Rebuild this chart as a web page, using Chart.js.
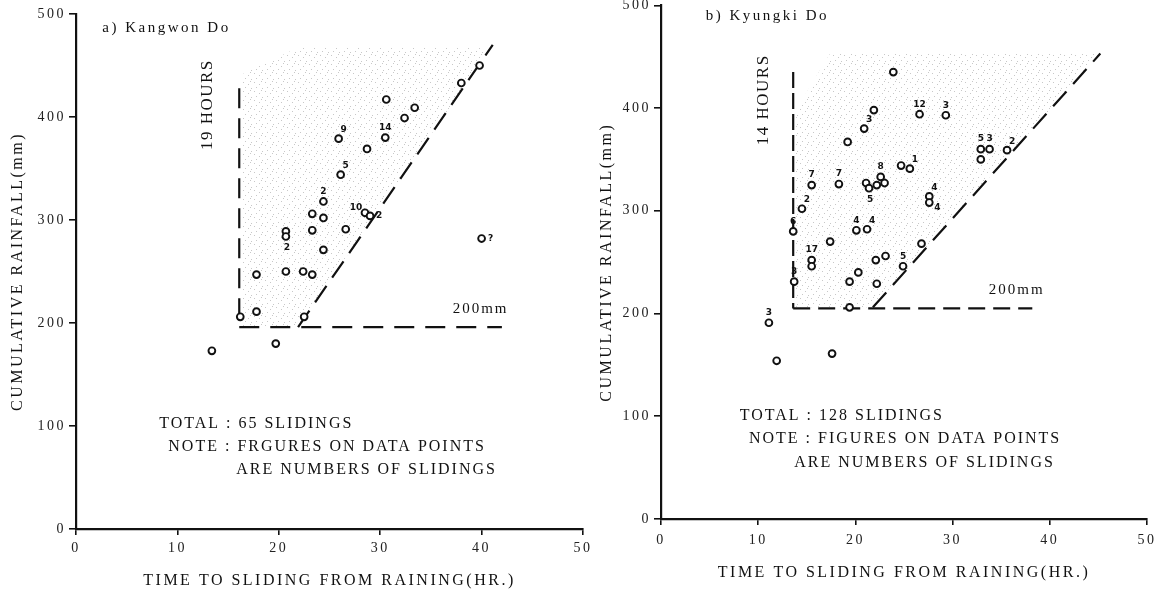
<!DOCTYPE html>
<html>
<head>
<meta charset="utf-8">
<title>Cumulative rainfall vs. time to sliding</title>
<script src="https://cdn.jsdelivr.net/npm/chart.js@4.4.1/dist/chart.umd.min.js"></script>
<style>
  html, body { margin: 0; padding: 0; background: #fff; }
  #wrap { position: relative; width: 1154px; height: 596px; overflow: hidden; }
  canvas { position: absolute; top: 0; }
  #chartA { left: 0; }
  #chartB { left: 590px; }
</style>
</head>
<body>
<div id="wrap">
  <canvas id="chartA" width="600" height="596"></canvas>
  <canvas id="chartB" width="564" height="596"></canvas>
</div>
<script>
const SERIF = '"Liberation Serif", "Times New Roman", serif';
const INK = '#111';

const xTicks = [0, 10, 20, 30, 40, 50];
const yTicks = [0, 100, 200, 300, 400, 500];

// a) Kangwon Do -- one entry per plotted landslide event
const hoursA = [39.8, 38.0, 30.6, 33.4, 32.4, 25.9, 30.5, 28.7, 26.1, 24.4,
                23.3, 24.4, 28.5, 29.0, 26.6, 23.3, 20.7, 20.7, 24.4, 40.0,
                17.8, 20.7, 22.4, 23.3, 16.2, 17.8, 22.5, 13.4, 19.7];
const rainA  = [450, 433, 417, 409, 399, 379, 380, 369, 344, 318,
                306, 302, 307, 304, 291, 290, 289, 284, 271, 282,
                247, 250, 250, 247, 206, 211, 206, 173, 180];
// number of slidings written next to a point ('' = single sliding)
const figuresA = ['', '', '', '', '', '9', '14', '', '5', '2',
                  '', '', '10', '2', '', '', '', '2', '', '?',
                  '', '', '', '', '', '', '', '', ''];
const figureSideA = ['', '', '', '', '', 'ne', 'n', '', 'ne', 'n',
                     '', '', 'nw', 'e', '', '', '', 's', '', 'e',
                     '', '', '', '', '', '', '', '', ''];
const hourLineA  = [[16.1, 428], [16.1, 196]];
const rainLineA  = [[16.1, 196], [42.0, 196]];
const slopeLineA = [[21.9, 196], [41.1, 470]];
const zoneA      = [[16.3, 197], [16.3, 441], [22.0, 468], [41.0, 468], [21.9, 197]];

// b) Kyungki Do
const hoursB = [23.9, 21.9, 20.9, 26.6, 29.3, 19.2, 32.9, 33.8, 35.6, 32.9,
                24.7, 25.6, 15.5, 18.3, 21.1, 21.4, 22.2, 22.6, 23.0, 14.5,
                27.6, 27.6, 13.6, 20.1, 21.2, 17.4, 26.8, 15.5, 15.5, 22.1,
                23.1, 24.9, 20.3, 19.4, 22.2, 13.7, 19.4, 11.1, 11.9, 17.6];
const rainB  = [435, 398, 380, 394, 393, 367, 360, 360, 359, 350,
                344, 341, 325, 326, 327, 322, 325, 333, 327, 302,
                314, 308, 280, 281, 282, 270, 268, 252, 246, 252,
                256, 246, 240, 231, 229, 231, 206, 191, 154, 161];
const figuresB = ['', '', '3', '12', '3', '', '5', '3', '2', '',
                  '', '1', '7', '7', '', '5', '', '8', '', '2',
                  '4', '4', '6', '4', '4', '', '', '17', '', '',
                  '', '5', '', '', '', '3', '', '3', '', ''];
const figureSideB = ['', '', 'ne', 'n', 'n', '', 'n', 'n', 'ne', '',
                     '', 'ne', 'n', 'n', '', 's', '', 'n', '', 'ne',
                     'ne', 'se', 'n', 'n', 'ne', '', '', 'n', '', '',
                     '', 'n', '', '', '', 'n', '', 'n', '', ''];
const hourLineB  = [[13.6, 435], [13.6, 205]];
const rainLineB  = [[13.6, 205], [38.2, 205]];
const slopeLineB = [[21.8, 206], [45.2, 453]];
const zoneB      = [[13.9, 206], [13.9, 398], [17.4, 453], [45.2, 453], [21.8, 206]];

// where the small count figures sit relative to their circle
const SIDE_OFFSET = { n: [0, -10], ne: [5, -9], nw: [-9, -5], e: [9, 0], s: [1, 11], se: [8, 5] };

const toXY = pairs => pairs.map(([x, y]) => ({ x, y }));

// faint stipple used for the shaded band
function stipple() {
  const tile = document.createElement('canvas');
  tile.width = 11; tile.height = 9;
  const g = tile.getContext('2d');
  g.fillStyle = 'rgba(110,110,110,0.38)';
  [[1, 1], [6, 3], [3, 6], [9, 7], [8, 0]].forEach(([x, y]) => g.fillRect(x, y, 1, 1));
  return g.createPattern(tile, 'repeat');
}

const spacedText = {
  id: 'spacedText',
  beforeDraw(chart) { chart.ctx.letterSpacing = '2.5px'; }
};

const annotations = {
  id: 'annotations',
  afterDatasetsDraw(chart, args, opts) {
    const { ctx } = chart;
    const xs = chart.scales.x, ys = chart.scales.y;
    const meta = chart.getDatasetMeta(0);
    ctx.save();
    ctx.letterSpacing = '0px';
    ctx.fillStyle = INK;
    ctx.font = 'bold 9px "DejaVu Sans", sans-serif';
    ctx.textAlign = 'center';
    ctx.textBaseline = 'middle';
    opts.figures.forEach((txt, i) => {
      if (!txt) return;
      const p = meta.data[i];
      const [dx, dy] = SIDE_OFFSET[opts.sides[i] || 'n'];
      ctx.fillText(txt, p.x + dx, p.y + dy);
    });
    opts.notes.forEach(n => {
      const px = xs.getPixelForValue(n.x);
      const py = ys.getPixelForValue(n.y);
      ctx.save();
      ctx.font = `${n.size}px ${SERIF}`;
      ctx.letterSpacing = `${n.spacing}px`;
      ctx.fillStyle = INK;
      ctx.textBaseline = 'middle';
      ctx.textAlign = n.align || 'left';
      ctx.translate(px, py);
      if (n.rotate) ctx.rotate(-Math.PI / 2);
      ctx.fillText(n.text, 0, 0);
      ctx.restore();
    });
    ctx.restore();
  }
};

function makePanel(id, d) {
  const dashed = (pairs, dash) => ({
    data: toXY(pairs), showLine: true, fill: false,
    borderColor: INK, borderWidth: 2.2, borderDash: dash,
    pointRadius: 0, pointHoverRadius: 0
  });
  return new Chart(document.getElementById(id), {
    type: 'scatter',
    data: {
      datasets: [
        {
          data: d.hours.map((h, i) => ({ x: h, y: d.rain[i] })),
          pointRadius: 3.4, pointHoverRadius: 3.4, pointBorderWidth: 1.9,
          pointBorderColor: INK, pointBackgroundColor: '#fff'
        },
        dashed(d.hourLine, d.hourDash),
        dashed(d.rainLine, d.rainDash),
        dashed(d.slopeLine, [20, 10]),
        {
          data: toXY(d.zone), showLine: true, fill: 'shape',
          backgroundColor: stipple(), borderColor: 'rgba(0,0,0,0)',
          borderWidth: 1, pointRadius: 0, pointHoverRadius: 0
        }
      ]
    },
    options: {
      responsive: false,
      animation: false,
      events: [],
      layout: { padding: d.padding },
      plugins: {
        legend: { display: false },
        tooltip: { enabled: false },
        annotations: { figures: d.figures, sides: d.sides, notes: d.notes }
      },
      scales: {
        x: {
          type: 'linear', position: 'bottom', min: 0, max: 50,
          afterBuildTicks: s => { s.ticks = xTicks.map(v => ({ value: v })); },
          ticks: { font: { family: SERIF, size: 14 }, color: '#222', padding: d.xTickPad, maxRotation: 0 },
          grid: { drawOnChartArea: false, drawTicks: true, tickLength: 6, color: INK, lineWidth: 1.6 },
          border: { display: true, color: INK, width: 2.2 },
          title: {
            display: true, text: 'TIME TO SLIDING FROM RAINING(HR.)',
            font: { family: SERIF, size: 16 }, color: INK, padding: { top: 0, bottom: 4 }
          },
          afterFit: s => { s.height = d.xHeight; s.paddingLeft = 0; s.paddingRight = 0; }
        },
        y: {
          type: 'linear', min: 0, max: 500,
          afterBuildTicks: s => { s.ticks = yTicks.map(v => ({ value: v })); },
          ticks: { font: { family: SERIF, size: 14 }, color: '#222', padding: 3 },
          grid: { drawOnChartArea: false, drawTicks: true, tickLength: 7, color: INK, lineWidth: 1.6 },
          border: { display: true, color: INK, width: 2.2 },
          title: {
            display: true, text: 'CUMULATIVE RAINFALL(mm)',
            font: { family: SERIF, size: 16 }, color: INK, padding: { top: d.yTitlePad, bottom: 0 }
          },
          afterFit: s => { s.width = d.yWidth; s.paddingTop = 0; s.paddingBottom = 0; }
        }
      }
    },
    plugins: [spacedText, annotations]
  });
}

makePanel('chartA', {
  hours: hoursA, rain: rainA, figures: figuresA, sides: figureSideA,
  hourLine: hourLineA, rainLine: rainLineA, slopeLine: slopeLineA, zone: zoneA,
  hourDash: [20, 10], rainDash: [20, 11],
  padding: { left: 0, top: 14, right: 17, bottom: 2 },
  yWidth: 76, xHeight: 65, xTickPad: 5, yTitlePad: 8,
  notes: [
    { text: 'a) Kangwon Do', x: 2.6, y: 486, size: 15, spacing: 2.5 },
    { text: '19 HOURS', x: 13.0, y: 412, size: 17, spacing: 1.5, align: 'center', rotate: true },
    { text: '200mm', x: 39.9, y: 214, size: 15, spacing: 2, align: 'center' },
    { text: 'TOTAL : 65 SLIDINGS', x: 8.2, y: 102, size: 16, spacing: 2 },
    { text: 'NOTE : FRGURES ON DATA POINTS', x: 9.1, y: 80, size: 16, spacing: 2 },
    { text: 'ARE NUMBERS OF SLIDINGS', x: 15.8, y: 57.5, size: 16, spacing: 2 }
  ]
});

makePanel('chartB', {
  hours: hoursB, rain: rainB, figures: figuresB, sides: figureSideB,
  hourLine: hourLineB, rainLine: rainLineB, slopeLine: slopeLineB, zone: zoneB,
  hourDash: [16, 5], rainDash: [17, 8],
  padding: { left: 0, top: 5, right: 7, bottom: 10 },
  yWidth: 71, xHeight: 67, xTickPad: 7, yTitlePad: 7,
  notes: [
    { text: 'b) Kyungki Do', x: 4.6, y: 490, size: 15, spacing: 2.5 },
    { text: '14 HOURS', x: 10.5, y: 408, size: 17, spacing: 1.5, align: 'center', rotate: true },
    { text: '200mm', x: 36.6, y: 223, size: 15, spacing: 2, align: 'center' },
    { text: 'TOTAL : 128 SLIDINGS', x: 8.1, y: 100.5, size: 16, spacing: 2 },
    { text: 'NOTE : FIGURES ON DATA POINTS', x: 9.05, y: 78, size: 16, spacing: 2 },
    { text: 'ARE NUMBERS OF SLIDINGS', x: 13.7, y: 55, size: 16, spacing: 2 }
  ]
});
</script>
</body>
</html>
